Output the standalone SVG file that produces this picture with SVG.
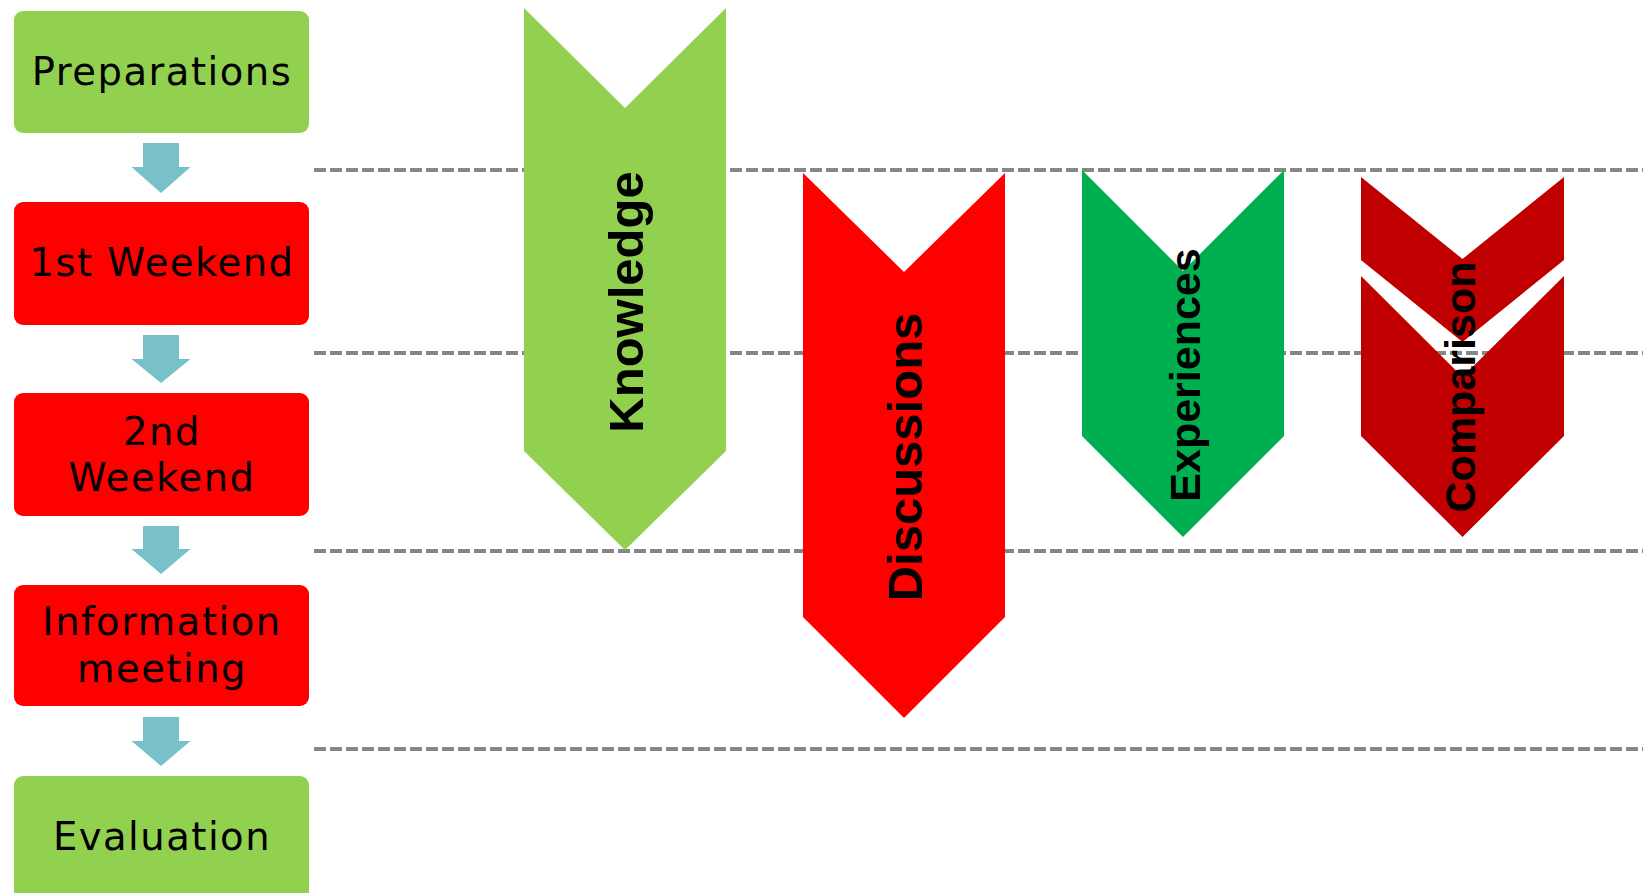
<svg xmlns="http://www.w3.org/2000/svg" width="1643" height="893" viewBox="0 0 1643 893">
  <style>
    .box-text { font-family: "DejaVu Sans", "Liberation Sans", sans-serif; font-size: 38.5px; letter-spacing: 1.5px; fill: #000; text-anchor: middle; }
    .chev-text { font-family: "Liberation Sans", Arial, sans-serif; font-weight: bold; fill: #000; text-anchor: middle; }
    .guide { stroke: #878787; stroke-width: 4; stroke-dasharray: 12 4; fill: none; }
    .flow { fill: #79C1C8; }
    .lg { fill: #92D050; }
    .rd { fill: #FF0000; }
    .gr { fill: #00B050; }
    .dr { fill: #C00000; }
  </style>
  <rect width="1643" height="893" fill="#FFFFFF"/>

  <g id="guides">
    <line class="guide" x1="314" y1="170" x2="1643" y2="170"/>
    <line class="guide" x1="314" y1="353" x2="1643" y2="353"/>
    <line class="guide" x1="314" y1="551" x2="1643" y2="551"/>
    <line class="guide" x1="314" y1="749" x2="1643" y2="749"/>
  </g>

  <g id="preparations">
    <rect class="lg" x="14" y="11" width="295" height="122" rx="9"/>
    <text class="box-text" x="162" y="85">Preparations</text>
  </g>
  <g id="weekend1">
    <rect class="rd" x="14" y="202" width="295" height="123" rx="9"/>
    <text class="box-text" x="162" y="276">1st Weekend</text>
  </g>
  <g id="weekend2">
    <rect class="rd" x="14" y="393" width="295" height="123" rx="9"/>
    <text class="box-text" x="162" y="445">2nd</text>
    <text class="box-text" x="162" y="491">Weekend</text>
  </g>
  <g id="information-meeting">
    <rect class="rd" x="14" y="585" width="295" height="121" rx="9"/>
    <text class="box-text" x="162" y="635">Information</text>
    <text class="box-text" x="162" y="682">meeting</text>
  </g>
  <g id="evaluation">
    <rect class="lg" x="14" y="776" width="295" height="130" rx="9"/>
    <text class="box-text" x="162" y="850">Evaluation</text>
  </g>

  <g id="connectors">
    <polygon class="flow" points="143,143 179,143 179,167 190.5,167 161,193 131.5,167 143,167"/>
    <polygon class="flow" points="143,335 179,335 179,359 190.5,359 161,383 131.5,359 143,359"/>
    <polygon class="flow" points="143,526 179,526 179,549 190.5,549 161,574 131.5,549 143,549"/>
    <polygon class="flow" points="143,717 179,717 179,741 190.5,741 161,766 131.5,741 143,741"/>
  </g>

  <g id="knowledge">
    <polygon class="lg" points="524,8 625,108 726,8 726,451 625,550 524,451"/>
    <text class="chev-text" font-size="49" transform="translate(643,302) rotate(-90)">Knowledge</text>
  </g>
  <g id="discussions">
    <polygon class="rd" points="803,173 904,272 1005,173 1005,617 904,718 803,617"/>
    <text class="chev-text" font-size="49" transform="translate(922,457) rotate(-90)">Discussions</text>
  </g>
  <g id="experiences">
    <polygon class="gr" points="1082,170 1183,271 1284,170 1284,436 1183,537 1082,436"/>
    <text class="chev-text" font-size="43" transform="translate(1200,375) rotate(-90)">Experiences</text>
  </g>
  <g id="comparison">
    <polygon class="dr" points="1361,177 1462.5,259 1564,177 1564,260 1462.5,342 1361,260"/>
    <polygon class="dr" points="1361,276 1462.5,377 1564,276 1564,436 1462.5,537 1361,436"/>
    <text class="chev-text" font-size="43" transform="translate(1475,387) rotate(-90)">Comparison</text>
  </g>
</svg>
